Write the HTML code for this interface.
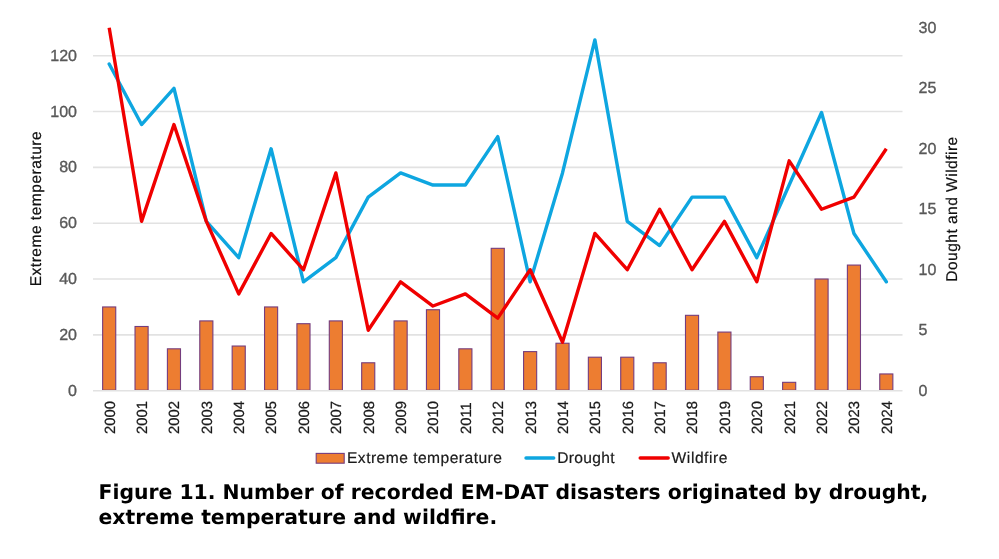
<!DOCTYPE html>
<html><head><meta charset="utf-8"><title>Figure 11</title>
<style>
html,body{margin:0;padding:0;background:#fff;width:999px;height:559px;overflow:hidden}
svg{display:block;filter:blur(0.35px)}
.g{stroke:#e2e2e2;stroke-width:1.6}
.b{fill:#ed7d31;stroke:#743d7e;stroke-width:1.1}
.ld{fill:none;stroke:#0ea6e0;stroke-width:3.4;stroke-linejoin:round;stroke-linecap:round}
.lw{fill:none;stroke:#f00000;stroke-width:3.4;stroke-linejoin:round;stroke-linecap:butt}
text{font-family:"Liberation Sans",Arial,sans-serif;text-rendering:geometricPrecision}
.ya{font-size:16px;fill:#595959;stroke:#595959;stroke-width:0.35px}
.xa{font-size:14.8px;fill:#1a1a1a;stroke:#1a1a1a;stroke-width:0.25px}
.at{font-size:15.6px;letter-spacing:0.3px;fill:#111;stroke:#111;stroke-width:0.2px}
.lg{font-size:15.6px;letter-spacing:0.3px;fill:#1a1a1a;stroke:#1a1a1a;stroke-width:0.2px}
.cap{text-rendering:geometricPrecision;font-family:"DejaVu Sans",Verdana,sans-serif;font-weight:bold;font-size:20.36px;fill:#000}
</style></head>
<body>
<svg width="999" height="559" viewBox="0 0 999 559">
<line x1="93.0" x2="902.5" y1="334.87" y2="334.87" class="g"/>
<line x1="93.0" x2="902.5" y1="279.03" y2="279.03" class="g"/>
<line x1="93.0" x2="902.5" y1="223.20" y2="223.20" class="g"/>
<line x1="93.0" x2="902.5" y1="167.37" y2="167.37" class="g"/>
<line x1="93.0" x2="902.5" y1="111.53" y2="111.53" class="g"/>
<line x1="93.0" x2="902.5" y1="55.70" y2="55.70" class="g"/>
<rect x="102.64" y="306.95" width="13.1" height="83.25" class="b"/>
<rect x="135.02" y="326.49" width="13.1" height="63.71" class="b"/>
<rect x="167.40" y="348.82" width="13.1" height="41.38" class="b"/>
<rect x="199.78" y="320.91" width="13.1" height="69.29" class="b"/>
<rect x="232.16" y="346.03" width="13.1" height="44.17" class="b"/>
<rect x="264.54" y="306.95" width="13.1" height="83.25" class="b"/>
<rect x="296.92" y="323.70" width="13.1" height="66.50" class="b"/>
<rect x="329.30" y="320.91" width="13.1" height="69.29" class="b"/>
<rect x="361.68" y="362.78" width="13.1" height="27.42" class="b"/>
<rect x="394.06" y="320.91" width="13.1" height="69.29" class="b"/>
<rect x="426.44" y="309.74" width="13.1" height="80.46" class="b"/>
<rect x="458.82" y="348.82" width="13.1" height="41.38" class="b"/>
<rect x="491.20" y="248.32" width="13.1" height="141.88" class="b"/>
<rect x="523.58" y="351.62" width="13.1" height="38.58" class="b"/>
<rect x="555.96" y="343.24" width="13.1" height="46.96" class="b"/>
<rect x="588.34" y="357.20" width="13.1" height="33.00" class="b"/>
<rect x="620.72" y="357.20" width="13.1" height="33.00" class="b"/>
<rect x="653.10" y="362.78" width="13.1" height="27.42" class="b"/>
<rect x="685.48" y="315.32" width="13.1" height="74.88" class="b"/>
<rect x="717.86" y="332.07" width="13.1" height="58.12" class="b"/>
<rect x="750.24" y="376.74" width="13.1" height="13.46" class="b"/>
<rect x="782.62" y="382.32" width="13.1" height="7.88" class="b"/>
<rect x="815.00" y="279.03" width="13.1" height="111.17" class="b"/>
<rect x="847.38" y="265.07" width="13.1" height="125.12" class="b"/>
<rect x="879.76" y="373.95" width="13.1" height="16.25" class="b"/>
<line x1="93.0" x2="902.5" y1="390.70" y2="390.70" class="g"/>
<polyline points="109.19,64.07 141.57,124.56 173.95,88.27 206.33,221.34 238.71,257.63 271.09,148.76 303.47,281.82 335.85,257.63 368.23,197.14 400.61,172.95 432.99,185.05 465.37,185.05 497.75,136.66 530.13,281.82 562.51,172.95 594.89,39.88 627.27,221.34 659.65,245.53 692.03,197.14 724.41,197.14 756.79,257.63 789.17,185.05 821.55,112.46 853.93,233.44 886.31,281.82" class="ld"/>
<polyline points="109.19,27.78 141.57,221.34 173.95,124.56 206.33,221.34 238.71,293.92 271.09,233.44 303.47,269.73 335.85,172.95 368.23,330.21 400.61,281.82 432.99,306.02 465.37,293.92 497.75,318.12 530.13,269.73 562.51,342.31 594.89,233.44 627.27,269.73 659.65,209.24 692.03,269.73 724.41,221.34 756.79,281.82 789.17,160.85 821.55,209.24 853.93,197.14 886.31,148.76" class="lw"/>
<text x="77" y="395.80" class="ya" text-anchor="end">0</text>
<text x="77" y="339.97" class="ya" text-anchor="end">20</text>
<text x="77" y="284.13" class="ya" text-anchor="end">40</text>
<text x="77" y="228.30" class="ya" text-anchor="end">60</text>
<text x="77" y="172.47" class="ya" text-anchor="end">80</text>
<text x="77" y="116.63" class="ya" text-anchor="end">100</text>
<text x="77" y="60.80" class="ya" text-anchor="end">120</text>
<text x="918.5" y="395.80" class="ya">0</text>
<text x="918.5" y="335.31" class="ya">5</text>
<text x="918.5" y="274.83" class="ya">10</text>
<text x="918.5" y="214.34" class="ya">15</text>
<text x="918.5" y="153.86" class="ya">20</text>
<text x="918.5" y="93.37" class="ya">25</text>
<text x="918.5" y="32.88" class="ya">30</text>
<text transform="translate(114.59,434) rotate(-90)" class="xa">2000</text>
<text transform="translate(146.97,434) rotate(-90)" class="xa">2001</text>
<text transform="translate(179.35,434) rotate(-90)" class="xa">2002</text>
<text transform="translate(211.73,434) rotate(-90)" class="xa">2003</text>
<text transform="translate(244.11,434) rotate(-90)" class="xa">2004</text>
<text transform="translate(276.49,434) rotate(-90)" class="xa">2005</text>
<text transform="translate(308.87,434) rotate(-90)" class="xa">2006</text>
<text transform="translate(341.25,434) rotate(-90)" class="xa">2007</text>
<text transform="translate(373.63,434) rotate(-90)" class="xa">2008</text>
<text transform="translate(406.01,434) rotate(-90)" class="xa">2009</text>
<text transform="translate(438.39,434) rotate(-90)" class="xa">2010</text>
<text transform="translate(470.77,434) rotate(-90)" class="xa">2011</text>
<text transform="translate(503.15,434) rotate(-90)" class="xa">2012</text>
<text transform="translate(535.53,434) rotate(-90)" class="xa">2013</text>
<text transform="translate(567.91,434) rotate(-90)" class="xa">2014</text>
<text transform="translate(600.29,434) rotate(-90)" class="xa">2015</text>
<text transform="translate(632.67,434) rotate(-90)" class="xa">2016</text>
<text transform="translate(665.05,434) rotate(-90)" class="xa">2017</text>
<text transform="translate(697.43,434) rotate(-90)" class="xa">2018</text>
<text transform="translate(729.81,434) rotate(-90)" class="xa">2019</text>
<text transform="translate(762.19,434) rotate(-90)" class="xa">2020</text>
<text transform="translate(794.57,434) rotate(-90)" class="xa">2021</text>
<text transform="translate(826.95,434) rotate(-90)" class="xa">2022</text>
<text transform="translate(859.33,434) rotate(-90)" class="xa">2023</text>
<text transform="translate(891.71,434) rotate(-90)" class="xa">2024</text>
<text transform="translate(41.2,286.3) rotate(-90)" class="at" style="letter-spacing:0.47px">Extreme temperature</text>
<text transform="translate(957.1,281.8) rotate(-90)" class="at" style="letter-spacing:0.45px">Dought and Wildfire</text>
<rect x="316.2" y="453.4" width="28" height="9.8" class="b"/>
<text x="347" y="463" class="lg" style="letter-spacing:0.47px">Extreme temperature</text>
<line x1="526" x2="553.7" y1="458" y2="458" class="ld"/>
<text x="557.3" y="463" class="lg">Drought</text>
<line x1="640.2" x2="668.2" y1="458" y2="458" class="lw" stroke-linecap="round" style="stroke-linecap:round"/>
<text x="671.6" y="463" class="lg" style="letter-spacing:0.55px">Wildfire</text>
<text x="98.5" y="499.0" class="cap">Figure 11. Number of recorded EM-DAT disasters originated by drought,</text>
<text x="98.5" y="523.6" class="cap">extreme temperature and wildfire.</text>
</svg>
</body></html>
